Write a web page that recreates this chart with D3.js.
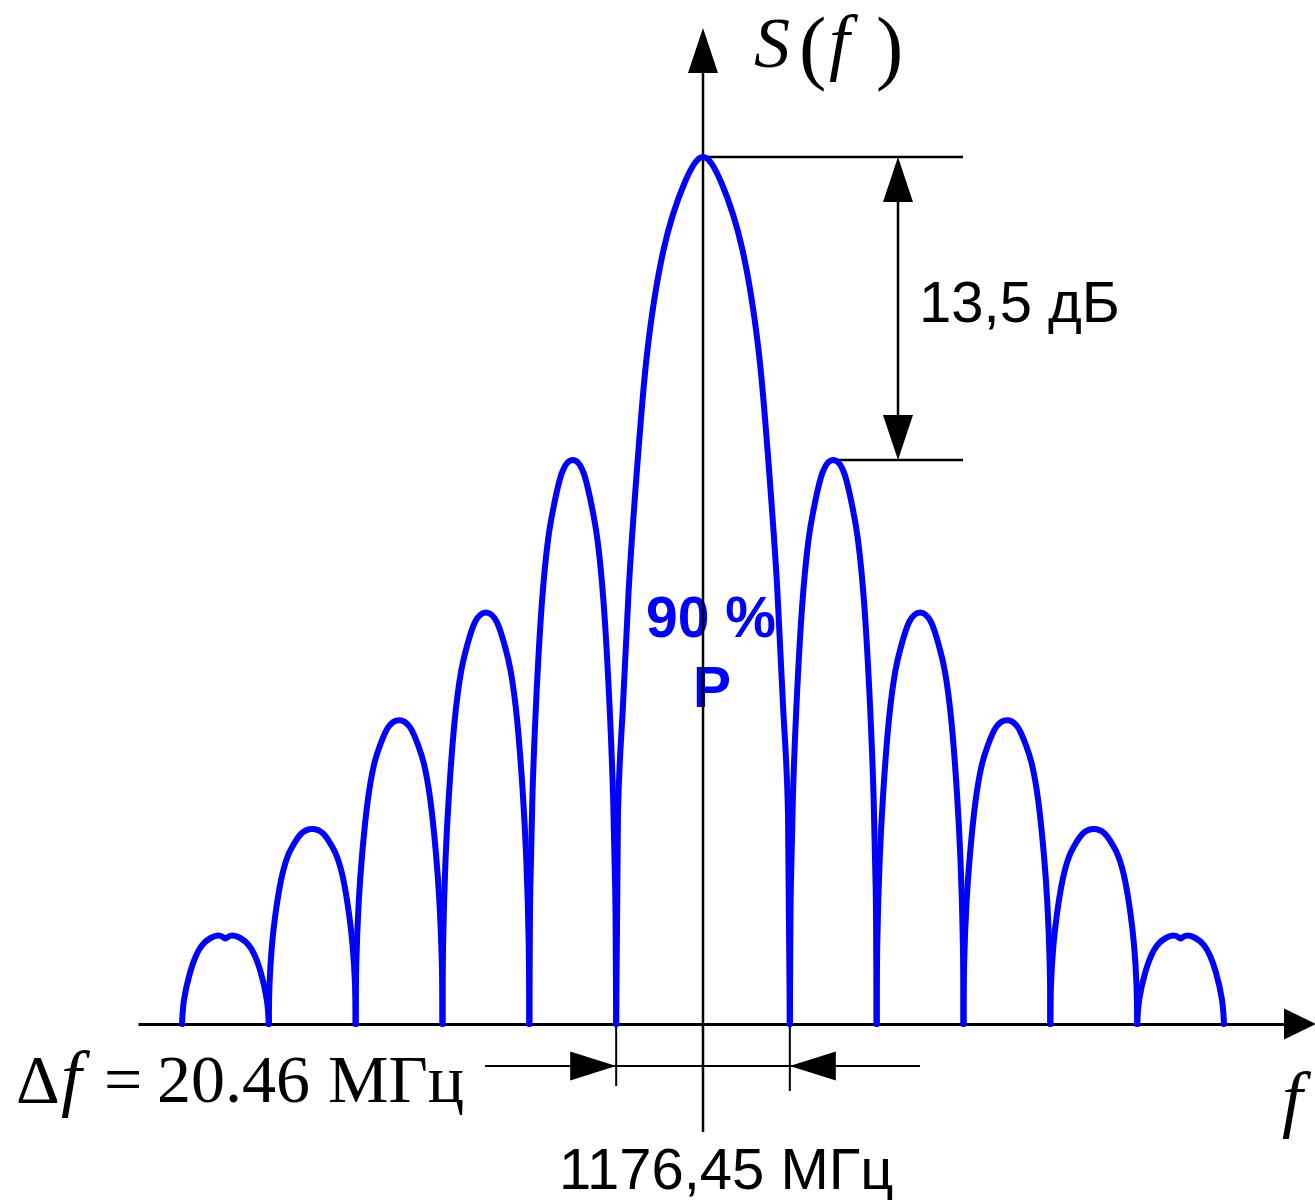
<!DOCTYPE html>
<html>
<head>
<meta charset="utf-8">
<script src="https://cdn.jsdelivr.net/npm/d3@7"></script>
<style>
  body { margin: 0; background: #fff; }
  svg { display: block; }
</style>
</head>
<body>
<div id="spectrum"></div>
<script>
// Data
// null positions, MHz away from the carrier 1176,45 MHz
var nullOffsets = [-61.38, -51.15, -40.92, -30.69, -20.46, -10.23, 10.23, 20.46, 30.69, 40.92, 51.15, 61.38];
// peak level of each lobe, dB relative to the main lobe (left to right)
var lobeLevels = [-34.7, -29.95, -25.1, -20.3, -13.5, 0, -13.5, -20.3, -25.1, -29.95, -34.7];
// lowest level shown (the baseline), dB
var floorLevel = -38.64;

// lobe outlines: distance from lobe centre (share of half width) -> share of lobe height
var mainShapeU = [0, 0.213, 0.454, 0.64, 0.743, 0.851, 0.926, 0.979, 1];
var mainShapeH = [1, 0.97, 0.893, 0.777, 0.662, 0.509, 0.359, 0.243, 0];
var sideShapeU = [0, 0.25, 0.44, 0.57, 0.72, 0.85, 0.93, 0.985, 1];
var sideShapeH = [1, 0.977, 0.917, 0.858, 0.737, 0.56, 0.4, 0.2, 0];
// the two outermost lobes have a flatter top with a small notch
var edgeShapeU = [0, 0.16, 0.54, 0.81, 0.955, 1];
var edgeShapeH = [0.966, 1, 0.89, 0.59, 0.27, 0];

var sideLobeDrop = 13.5;   // dB, marked between main and first side lobe
var mainLobeWidth = 20.46; // MHz
var carrierLabel = "1176,45 МГц";

// Setup chart
var svgWidth = 1315;
var svgHeight = 1200;
var margin = { top: 157, right: 91, bottom: 176, left: 182 };
var width = svgWidth - margin.left - margin.right;
var height = svgHeight - margin.top - margin.bottom;

var svg = d3.select("#spectrum")
  .append("svg")
  .attr("width", svgWidth)
  .attr("height", svgHeight);

var chartGroup = svg.append("g")
  .attr("transform", `translate(${margin.left}, ${margin.top})`);

// Scales
var xScale = d3.scaleLinear()
  .domain([nullOffsets[0], nullOffsets[nullOffsets.length - 1]])
  .range([0, width]);

var yScale = d3.scaleLinear()
  .domain([floorLevel, 0])
  .range([height, 0]);

var serif = "'Liberation Serif', 'Times New Roman', serif";
var sans = "'Liberation Sans', Arial, sans-serif";

// small helper for filled arrow heads; dir = "up" | "down" | "left" | "right"
function arrowHead(g, x, y, dir, len, half) {
  var pts;
  if (dir === "up") pts = [[x, y], [x - half, y + len], [x + half, y + len]];
  if (dir === "down") pts = [[x, y], [x - half, y - len], [x + half, y - len]];
  if (dir === "right") pts = [[x, y], [x - len, y - half], [x - len, y + half]];
  if (dir === "left") pts = [[x, y], [x + len, y - half], [x + len, y + half]];
  g.append("polygon")
    .attr("points", pts.map(p => p.join(",")).join(" "))
    .attr("fill", "#000");
}

var x0 = xScale(0);
var yBase = yScale(floorLevel);
var yTop = yScale(0);

// blue text inside the main lobe
chartGroup.append("text")
  .attr("x", x0 + 8)
  .attr("y", 480)
  .attr("text-anchor", "middle")
  .attr("font-family", sans)
  .attr("font-weight", "bold")
  .attr("font-size", 57)
  .attr("fill", "#0000ff")
  .text("90 %");
chartGroup.append("text")
  .attr("x", x0 + 9)
  .attr("y", 550)
  .attr("text-anchor", "middle")
  .attr("font-family", sans)
  .attr("font-weight", "bold")
  .attr("font-size", 57)
  .attr("fill", "#0000ff")
  .text("P");

// frequency axis (no ticks, just the line)
var xAxisScale = d3.scaleLinear()
  .domain([xScale.invert(138 - margin.left), xScale.invert(1290 - margin.left)])
  .range([138 - margin.left, 1290 - margin.left]);
chartGroup.append("g")
  .attr("transform", `translate(0, ${yBase})`)
  .call(d3.axisBottom(xAxisScale).tickValues([]).tickSizeOuter(0))
  .call(g => g.select(".domain").attr("stroke", "#000").attr("stroke-width", 3));
arrowHead(chartGroup, 1316 - margin.left, yBase, "right", 32, 15.5);

// level axis
chartGroup.append("line")
  .attr("x1", x0).attr("x2", x0)
  .attr("y1", 1132 - margin.top).attr("y2", 60 - margin.top)
  .attr("stroke", "#000").attr("stroke-width", 2.5);
arrowHead(chartGroup, x0, 28 - margin.top, "up", 45, 15);

// 13,5 dB dimension
var ySide = yScale(-sideLobeDrop);
var xDim = 898 - margin.left;
chartGroup.append("line")
  .attr("x1", x0).attr("x2", 963 - margin.left)
  .attr("y1", yTop).attr("y2", yTop)
  .attr("stroke", "#000").attr("stroke-width", 2.5);
chartGroup.append("line")
  .attr("x1", xScale(nullOffsets[6]) + 40).attr("x2", 963 - margin.left)
  .attr("y1", ySide).attr("y2", ySide)
  .attr("stroke", "#000").attr("stroke-width", 2.5);
chartGroup.append("line")
  .attr("x1", xDim).attr("x2", xDim)
  .attr("y1", yTop + 40).attr("y2", ySide - 40)
  .attr("stroke", "#000").attr("stroke-width", 2.5);
arrowHead(chartGroup, xDim, yTop, "up", 45, 15);
arrowHead(chartGroup, xDim, ySide, "down", 45, 15);
svg.append("text")
  .attr("x", 919)
  .attr("y", 322)
  .attr("font-family", sans)
  .attr("font-size", 58)
  .attr("fill", "#000")
  .text(sideLobeDrop.toFixed(1).replace(".", ",") + " дБ");

// main lobe width dimension
var xL = xScale(-mainLobeWidth / 2);
var xR = xScale(mainLobeWidth / 2);
var yDim = 1066 - margin.top;
chartGroup.append("line")
  .attr("x1", xL).attr("x2", xL)
  .attr("y1", yBase).attr("y2", 1086 - margin.top)
  .attr("stroke", "#000").attr("stroke-width", 2);
chartGroup.append("line")
  .attr("x1", xR).attr("x2", xR)
  .attr("y1", yBase).attr("y2", 1091 - margin.top)
  .attr("stroke", "#000").attr("stroke-width", 2);
chartGroup.append("line")
  .attr("x1", 485 - margin.left).attr("x2", 920 - margin.left)
  .attr("y1", yDim).attr("y2", yDim)
  .attr("stroke", "#000").attr("stroke-width", 2);
arrowHead(chartGroup, xL, yDim, "right", 46, 14.5);
arrowHead(chartGroup, xR, yDim, "left", 46, 14.5);

// spectrum lobes
var line = d3.line()
  .x(d => xScale(d[0]))
  .y(d => yScale(d[1]))
  .curve(d3.curveNatural);

lobeLevels.forEach(function(level, i) {
  var a = nullOffsets[i];
  var b = nullOffsets[i + 1];
  var c = (a + b) / 2;
  var half = (b - a) / 2;
  var us = mainShapeU, hs = mainShapeH;
  if (i === 0 || i === lobeLevels.length - 1) { us = edgeShapeU; hs = edgeShapeH; }
  else if (level < 0) { us = sideShapeU; hs = sideShapeH; }
  var pts = [];
  for (var k = us.length - 1; k >= 0; k--) {
    pts.push([c - us[k] * half, floorLevel + (level - floorLevel) * hs[k]]);
  }
  for (var k = 1; k < us.length; k++) {
    pts.push([c + us[k] * half, floorLevel + (level - floorLevel) * hs[k]]);
  }
  chartGroup.append("path")
    .datum(pts)
    .attr("d", line)
    .attr("fill", "none")
    .attr("stroke", "#0000ff")
    .attr("stroke-width", 6)
    .attr("stroke-linejoin", "round")
    .attr("stroke-linecap", "round");
});

// axis titles and labels
var sf = svg.append("g").attr("font-family", serif).attr("fill", "#000");
sf.append("text").attr("x", 754).attr("y", 67).attr("font-size", 72).attr("font-style", "italic").text("S");
sf.append("text").attr("x", 799).attr("y", 74).attr("font-size", 82).text("(");
sf.append("text").attr("x", 829).attr("y", 66).attr("font-size", 74).attr("font-style", "italic").text("f");
sf.append("text").attr("x", 876).attr("y", 74).attr("font-size", 82).text(")");

sf.append("text").attr("x", 1282).attr("y", 1123).attr("font-size", 74).attr("font-style", "italic").text("f");

var df = svg.append("g").attr("font-family", serif).attr("font-size", 68).attr("fill", "#000");
df.append("text").attr("x", 16).attr("y", 1102).text("Δ");
df.append("text").attr("x", 61).attr("y", 1102).attr("font-size", 74).attr("font-style", "italic").text("f");
df.append("text").attr("x", 104).attr("y", 1102).text("=");
df.append("text").attr("x", 157).attr("y", 1102).text(mainLobeWidth.toFixed(2));
df.append("text").attr("x", 328).attr("y", 1102).text("МГц");

svg.append("text")
  .attr("x", 559)
  .attr("y", 1189)
  .attr("font-family", sans)
  .attr("font-size", 58)
  .attr("fill", "#000")
  .text(carrierLabel);
</script>
</body>
</html>
